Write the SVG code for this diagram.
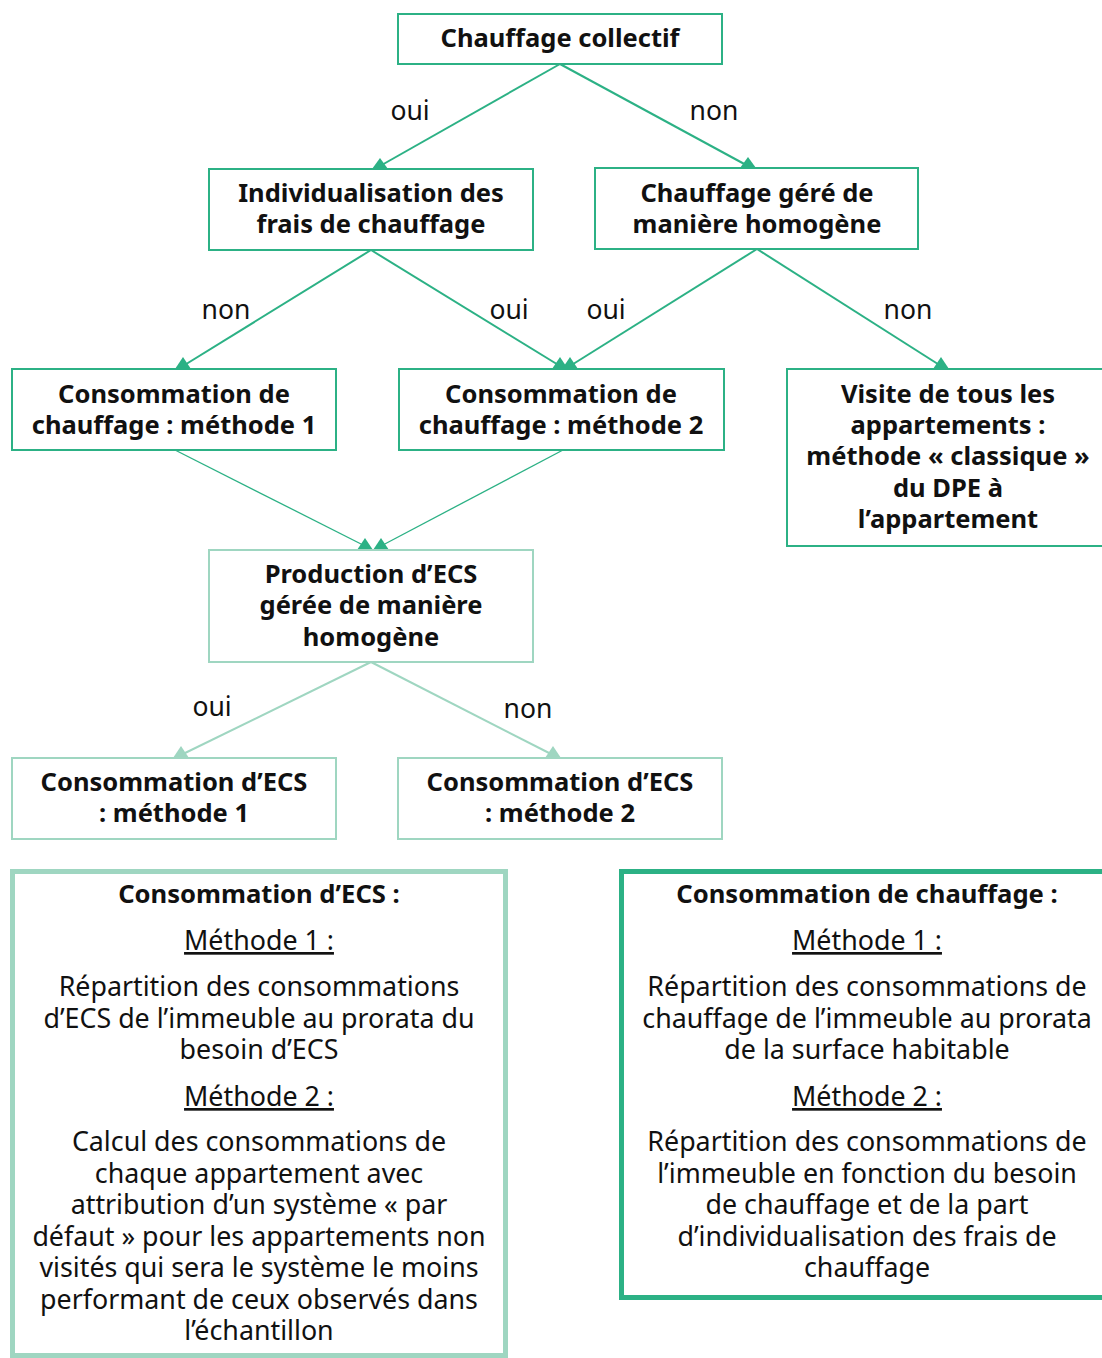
<svg xmlns="http://www.w3.org/2000/svg" width="1102" height="1358" viewBox="0 0 1102 1358">
<style>
.bg{fill:#ffffff}
.nd{fill:#ffffff;stroke:#2cb185;stroke-width:2}
.nl{fill:#ffffff;stroke:#9fd6c1;stroke-width:2}
.t{font-family:"Noto Sans",Lato,sans-serif;font-weight:bold;font-size:25.5px;fill:#111;text-anchor:middle}
.lb{font-family:"Noto Sans",Lato,sans-serif;font-size:26.5px;fill:#111;text-anchor:middle}
.b{font-family:"Noto Sans",Lato,sans-serif;font-size:26.8px;fill:#111;text-anchor:middle}
.bt{font-family:"Noto Sans",Lato,sans-serif;font-weight:bold;font-size:25.6px;fill:#111;text-anchor:middle}
.u{text-decoration:underline}
.cd{stroke:#2cb185;stroke-width:2;fill:none}
.cdt{stroke:#2cb185;stroke-width:1.3;fill:none}
.cl{stroke:#9fd6c1;stroke-width:2;fill:none}
.ad{fill:#2cb185}
.al{fill:#9fd6c1}
</style>
<rect class="bg" x="0" y="0" width="1102" height="1358"/>
<g id="connectors">
<line class="cd" x1="560" y1="64" x2="380" y2="166"/>
<line class="cd" x1="560" y1="64" x2="748" y2="166"/>
<line class="cd" x1="371" y1="250" x2="183" y2="366"/>
<line class="cd" x1="371" y1="250" x2="560" y2="366"/>
<line class="cd" x1="757" y1="249" x2="570" y2="366"/>
<line class="cd" x1="757" y1="249" x2="941" y2="366"/>
<line class="cdt" x1="175" y1="450" x2="365" y2="546"/>
<line class="cdt" x1="563" y1="450" x2="381" y2="546"/>
<line class="cl" x1="371" y1="662" x2="181" y2="755"/>
<line class="cl" x1="371" y1="662" x2="553" y2="755"/>
<polygon class="ad" points="372,169 388,169 380,158"/>
<polygon class="ad" points="740,168 756,168 748,157"/>
<polygon class="ad" points="175,369 191,369 183,357"/>
<polygon class="ad" points="552,369 568,369 560,357"/>
<polygon class="ad" points="562,369 578,369 570,357"/>
<polygon class="ad" points="933,369 949,369 941,357"/>
<polygon class="ad" points="357,550 373,550 365,538"/>
<polygon class="ad" points="373,550 389,550 381,538"/>
<polygon class="al" points="173,758 189,758 181,746"/>
<polygon class="al" points="545,758 561,758 553,746"/>
<text class="lb" x="410" y="120">oui</text>
<text class="lb" x="714" y="120">non</text>
<text class="lb" x="226" y="319">non</text>
<text class="lb" x="509" y="319">oui</text>
<text class="lb" x="606" y="319">oui</text>
<text class="lb" x="908" y="319">non</text>
<text class="lb" x="212" y="716">oui</text>
<text class="lb" x="528" y="718">non</text>
</g>
<g id="n-collectif">
<rect class="nd" x="398" y="14" width="324" height="50"/>
<text class="t" x="560" y="47">Chauffage collectif</text>
</g>
<g id="n-individualisation">
<rect class="nd" x="209" y="169" width="324" height="81"/>
<text class="t" x="371" y="202">Individualisation des</text>
<text class="t" x="371" y="233">frais de chauffage</text>
</g>
<g id="n-homogene">
<rect class="nd" x="595" y="168" width="323" height="81"/>
<text class="t" x="757" y="202">Chauffage géré de</text>
<text class="t" x="757" y="233">manière homogène</text>
</g>
<g id="n-chauff-m1">
<rect class="nd" x="12" y="369" width="324" height="81"/>
<text class="t" x="174" y="403">Consommation de</text>
<text class="t" x="174" y="434">chauffage : méthode 1</text>
</g>
<g id="n-chauff-m2">
<rect class="nd" x="399" y="369" width="325" height="81"/>
<text class="t" x="561" y="403">Consommation de</text>
<text class="t" x="561" y="434">chauffage : méthode 2</text>
</g>
<g id="n-visite">
<rect class="nd" x="787" y="369" width="325" height="177"/>
<text class="t" x="948" y="403">Visite de tous les</text>
<text class="t" x="948" y="434">appartements :</text>
<text class="t" x="948" y="465">méthode « classique »</text>
<text class="t" x="948" y="497">du DPE à</text>
<text class="t" x="948" y="528">l’appartement</text>
</g>
<g id="n-production">
<rect class="nl" x="209" y="550" width="324" height="112"/>
<text class="t" x="371" y="583">Production d’ECS</text>
<text class="t" x="371" y="614">gérée de manière</text>
<text class="t" x="371" y="646">homogène</text>
</g>
<g id="n-ecs-m1">
<rect class="nl" x="12" y="758" width="324" height="81"/>
<text class="t" x="174" y="791">Consommation d’ECS</text>
<text class="t" x="174" y="822">: méthode 1</text>
</g>
<g id="n-ecs-m2">
<rect class="nl" x="398" y="758" width="324" height="81"/>
<text class="t" x="560" y="791">Consommation d’ECS</text>
<text class="t" x="560" y="822">: méthode 2</text>
</g>
<g id="legend-ecs">
<rect x="12.5" y="871.5" width="493" height="484" fill="#ffffff" stroke="#9fd6c1" stroke-width="5"/>
<text class="bt" x="259" y="903">Consommation d’ECS :</text>
<text class="b u" x="259" y="950">Méthode 1 :</text>
<text class="b" x="259" y="996">Répartition des consommations</text>
<text class="b" x="259" y="1028">d’ECS de l’immeuble au prorata du</text>
<text class="b" x="259" y="1059">besoin d’ECS</text>
<text class="b u" x="259" y="1106">Méthode 2 :</text>
<text class="b" x="259" y="1151">Calcul des consommations de</text>
<text class="b" x="259" y="1183">chaque appartement avec</text>
<text class="b" x="259" y="1214">attribution d’un système « par</text>
<text class="b" x="259" y="1246">défaut » pour les appartements non</text>
<text class="b" x="259" y="1277">visités qui sera le système le moins</text>
<text class="b" x="259" y="1309">performant de ceux observés dans</text>
<text class="b" x="259" y="1340">l’échantillon</text>
</g>
<g id="legend-chauffage">
<rect x="621.5" y="871.5" width="490" height="426" fill="#ffffff" stroke="#2cb185" stroke-width="5"/>
<text class="bt" x="867" y="903">Consommation de chauffage :</text>
<text class="b u" x="867" y="950">Méthode 1 :</text>
<text class="b" x="867" y="996">Répartition des consommations de</text>
<text class="b" x="867" y="1028">chauffage de l’immeuble au prorata</text>
<text class="b" x="867" y="1059">de la surface habitable</text>
<text class="b u" x="867" y="1106">Méthode 2 :</text>
<text class="b" x="867" y="1151">Répartition des consommations de</text>
<text class="b" x="867" y="1183">l’immeuble en fonction du besoin</text>
<text class="b" x="867" y="1214">de chauffage et de la part</text>
<text class="b" x="867" y="1246">d’individualisation des frais de</text>
<text class="b" x="867" y="1277">chauffage</text>
</g>
</svg>
